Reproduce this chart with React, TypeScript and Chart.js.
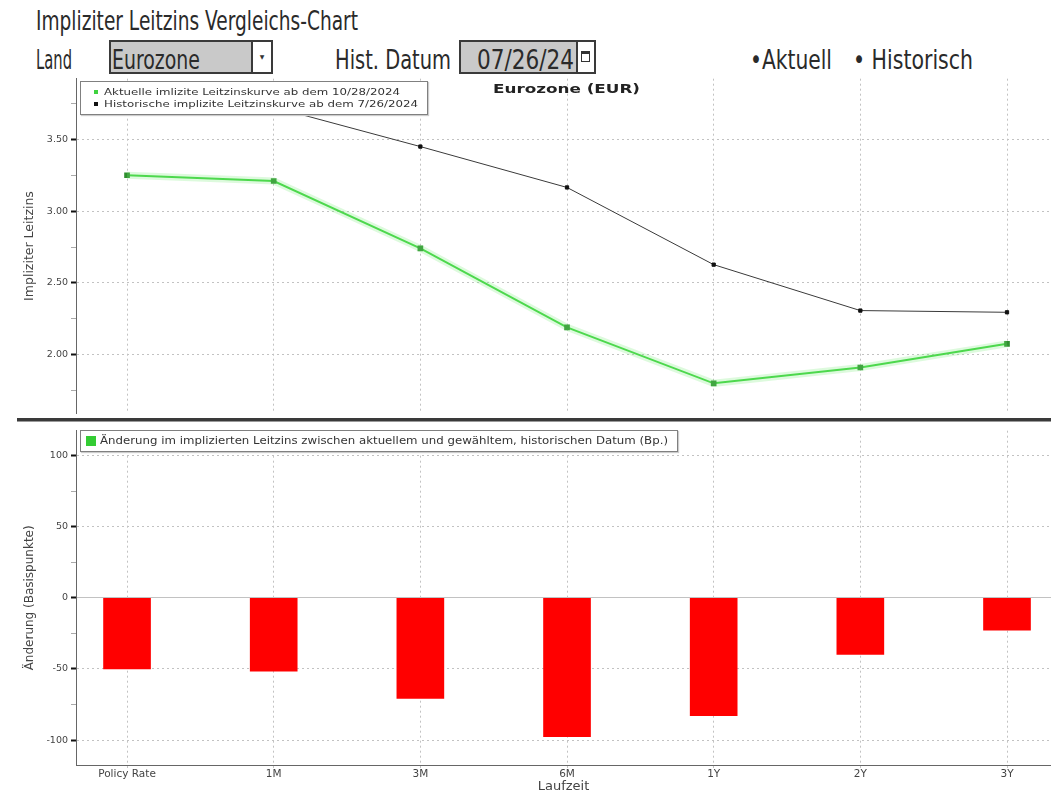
import React, { useEffect, useRef } from 'react';
import { Chart, registerables } from 'chart.js';

Chart.register(...registerables);

// ---------- data ----------
const categories = ['Policy Rate', '1M', '3M', '6M', '1Y', '2Y', '3Y'];
const currentCurve = [3.25, 3.21, 2.74, 2.19, 1.80, 1.91, 2.075];
const historicalCurve = [3.75, 3.725, 3.45, 3.165, 2.627, 2.307, 2.295];
const changeBp = [-50, -51.5, -70.7, -97.5, -82.8, -39.8, -22.7];
const rateMajorTicks = [2.0, 2.5, 3.0, 3.5];
const rateMinorTicks = [1.75, 2.25, 2.75, 3.25, 3.75];
const changeMajorTicks = [-100, -50, 0, 50, 100];
const changeMinorTicks = [-75, -25, 25, 75];

const currentLabel = 'Aktuelle imlizite Leitzinskurve ab dem 10/28/2024';
const historicalLabel = 'Historische implizite Leitzinskurve ab dem 7/26/2024';
const changeLabel = 'Änderung im implizierten Leitzins zwischen aktuellem und gewähltem, historischen Datum (Bp.)';

const FAMILY = 'DejaVu Sans';
const FONT = "'DejaVu Sans', sans-serif";

let measureCtx: CanvasRenderingContext2D | null = null;
function measure(text: string, size: number, weight: number | string, family: string) {
  if (!measureCtx) measureCtx = document.createElement('canvas').getContext('2d');
  if (!measureCtx) return 0;
  measureCtx.font = `${weight} ${size}px '${family}'`;
  return measureCtx.measureText(text).width;
}

function FitText(props: {
  text: string; x: number; baseline: number; width: number; size: number;
  weight?: number | string; color?: string; family?: string;
}) {
  const { text, x, baseline, width, size, weight = 400, color = '#2a2a2a', family = FAMILY } = props;
  const w = measure(text, size, weight, family);
  const k = w > 0 ? width / w : 1;
  return (
    <div
      style={{
        position: 'absolute', left: x, top: baseline - 0.846 * size,
        fontFamily: `'${family}'`, fontSize: size, fontWeight: weight as any,
        lineHeight: 1, whiteSpace: 'nowrap', color,
        transform: `scaleX(${k})`, transformOrigin: 'left top',
      }}
    >
      {text}
    </div>
  );
}

const X_MIN = -0.348;
const X_MAX = 6.3;
const GRID = '#c2c2c2';
const DASH = [2, 3];

export default function App() {
  const topRef = useRef<HTMLCanvasElement>(null);
  const botRef = useRef<HTMLCanvasElement>(null);

  useEffect(() => {
    const isRateMajor = (v: any) => rateMajorTicks.includes(v);
    const isChangeMajor = (v: any) => changeMajorTicks.includes(v);

    const top = new Chart(topRef.current!, {
      type: 'line',
      data: {
        datasets: [
          {
            data: currentCurve.map((y, i) => ({ x: i, y })),
            borderColor: 'rgba(120,235,120,0.25)',
            borderWidth: 7,
            pointRadius: 0,
          },
          {
            data: historicalCurve.map((y, i) => ({ x: i, y })),
            borderColor: '#3a3a3a',
            borderWidth: 1,
            pointStyle: 'rect',
            pointRadius: 2.3,
            pointBackgroundColor: '#111',
            pointBorderColor: '#111',
          },
          {
            data: currentCurve.map((y, i) => ({ x: i, y })),
            borderColor: '#3fd23f',
            borderWidth: 2,
            pointStyle: 'rect',
            pointRadius: 2.6,
            pointBackgroundColor: '#2f8f2f',
            pointBorderColor: '#2f8f2f',
          },
        ],
      },
      options: {
        responsive: false,
        animation: false,
        events: [],
        layout: { autoPadding: false, padding: { top: 8, bottom: 2, left: 0, right: 0 } },
        plugins: { legend: { display: false }, tooltip: { enabled: false }, title: { display: false } },
        scales: {
          x: {
            type: 'linear',
            min: X_MIN,
            max: X_MAX,
            afterBuildTicks: (s: any) => { s.ticks = categories.map((_, i) => ({ value: i })); },
            afterFit: (s: any) => { s.height = 0; },
            ticks: { display: false },
            grid: { color: GRID, drawTicks: false, offset: false },
            border: { display: false, dash: DASH },
          },
          y: {
            min: 1.591,
            max: 3.923,
            afterBuildTicks: (s: any) => {
              s.ticks = [...rateMinorTicks, ...rateMajorTicks].sort((a, b) => a - b).map((v) => ({ value: v }));
            },
            afterFit: (s: any) => { s.width = 76; },
            ticks: {
              autoSkip: false,
              padding: 3,
              color: '#444',
              font: { family: FAMILY, size: 9.5 },
              callback: (v: any) => (isRateMajor(v) ? Number(v).toFixed(2) : ''),
            },
            grid: {
              color: (c: any) => (c.tick && isRateMajor(c.tick.value) ? GRID : 'rgba(0,0,0,0)'),
              tickColor: (c: any) => (c.tick && isRateMajor(c.tick.value) ? '#111' : '#aaa'),
              tickWidth: (c: any) => (c.tick && isRateMajor(c.tick.value) ? 2 : 1),
              tickLength: 5,
            },
            border: { color: '#666', width: 1, dash: DASH },
            title: {
              display: true,
              text: 'Impliziter Leitzins',
              color: '#444',
              font: { family: FAMILY, size: 12.5 },
              padding: { top: 22, bottom: 0 },
            },
          },
        },
      } as any,
    });

    const bot = new Chart(botRef.current!, {
      type: 'bar',
      data: {
        datasets: [
          {
            data: changeBp.map((y, i) => ({ x: i, y })),
            backgroundColor: '#ff0000',
            borderWidth: 0,
            barThickness: 47,
          },
        ],
      },
      options: {
        responsive: false,
        animation: false,
        events: [],
        layout: { autoPadding: false, padding: { top: 1, bottom: 0, left: 0, right: 0 } },
        plugins: { legend: { display: false }, tooltip: { enabled: false }, title: { display: false } },
        scales: {
          x: {
            type: 'linear',
            min: X_MIN,
            max: X_MAX,
            offset: false,
            afterBuildTicks: (s: any) => { s.ticks = categories.map((_, i) => ({ value: i })); },
            afterFit: (s: any) => { s.height = 29; },
            ticks: {
              autoSkip: false,
              maxRotation: 0,
              padding: 0,
              color: '#444',
              font: { family: FAMILY, size: 10.5 },
              callback: (v: any) => categories[v] ?? '',
            },
            grid: { color: GRID, tickColor: GRID, tickLength: 3, offset: false },
            border: { color: '#666', width: 1, dash: DASH },
            title: {
              display: true,
              text: 'Laufzeit',
              color: '#444',
              font: { family: FAMILY, size: 13 },
              padding: { top: 0, bottom: 0 },
            },
          },
          y: {
            min: -117.5,
            max: 117.5,
            afterBuildTicks: (s: any) => {
              s.ticks = [...changeMinorTicks, ...changeMajorTicks].sort((a, b) => a - b).map((v) => ({ value: v }));
            },
            afterFit: (s: any) => { s.width = 76; },
            ticks: {
              autoSkip: false,
              padding: 3,
              color: '#444',
              font: { family: FAMILY, size: 9.5 },
              callback: (v: any) => (isChangeMajor(v) ? String(v) : ''),
            },
            grid: {
              color: (c: any) => (c.tick && isChangeMajor(c.tick.value) ? GRID : 'rgba(0,0,0,0)'),
              tickColor: (c: any) => (c.tick && isChangeMajor(c.tick.value) ? '#111' : '#aaa'),
              tickWidth: (c: any) => (c.tick && isChangeMajor(c.tick.value) ? 2 : 1),
              tickLength: 5,
            },
            border: {
              color: '#666',
              width: 1,
              dash: (c: any) => (c.tick && c.tick.value === 0 ? [] : DASH),
            },
            title: {
              display: true,
              text: 'Änderung (Basispunkte)',
              color: '#444',
              font: { family: FAMILY, size: 12 },
              padding: { top: 23, bottom: 0 },
            },
          },
        },
      } as any,
    });

    return () => {
      top.destroy();
      bot.destroy();
    };
  }, []);

  const boxBorder = '2px solid #3a3a3a';

  return (
    <div style={{ position: 'absolute', left: 0, top: 0, width: 1051, height: 794, background: '#fff', overflow: 'hidden', fontFamily: FONT }}>
      {/* Header */}
      <FitText text="Impliziter Leitzins Vergleichs-Chart" x={36} baseline={30} width={322} size={27} />
      <FitText text="Land" x={36} baseline={69} width={36} size={26} />
      <div style={{ position: 'absolute', left: 109, top: 40, width: 164, height: 34, background: '#c9c9c9', border: boxBorder, boxSizing: 'border-box' }}>
        <div style={{ position: 'absolute', right: 0, top: 0, width: 20, height: '100%', background: '#fff', borderLeft: boxBorder, boxSizing: 'border-box', textAlign: 'center', fontSize: 6, lineHeight: '30px', color: '#333' }}>▼</div>
      </div>
      <FitText text="Eurozone" x={112} baseline={69} width={88} size={26} />
      <FitText text="Hist. Datum" x={335} baseline={69} width={116} size={26} />
      <div style={{ position: 'absolute', left: 459, top: 40, width: 137, height: 34, background: '#c9c9c9', border: boxBorder, boxSizing: 'border-box' }}>
        <div style={{ position: 'absolute', right: 0, top: 0, width: 18, height: '100%', background: '#fff', borderLeft: boxBorder, boxSizing: 'border-box' }}>
          <div style={{ position: 'absolute', left: 3, top: 9, width: 9, height: 11, border: '1.5px solid #333', borderTopWidth: 3, boxSizing: 'border-box' }} />
        </div>
      </div>
      <FitText text="07/26/24" x={477} baseline={69} width={97} size={26} />
      <FitText text="•Aktuell" x={750} baseline={69} width={82} size={26} />
      <FitText text="• Historisch" x={853} baseline={69} width={120} size={26} />

      {/* Charts */}
      <canvas ref={topRef} width={1051} height={352} style={{ position: 'absolute', left: 0, top: 70, width: 1051, height: 352 }} />
      <canvas ref={botRef} width={1051} height={372} style={{ position: 'absolute', left: 0, top: 422, width: 1051, height: 372 }} />

      {/* chart title */}
      <FitText text="Eurozone (EUR)" x={493} baseline={93} width={147} size={12} weight={700} color="#222" />

      {/* separator */}
      <div style={{ position: 'absolute', left: 17, top: 418, width: 1034, height: 3, background: '#3a3a3a' }} />
      <div style={{ position: 'absolute', left: 17, top: 421, width: 1034, height: 1, background: '#9a9a9a' }} />

      {/* top legend */}
      <div style={{ position: 'absolute', left: 80, top: 81, width: 348, height: 34, background: '#fff', border: '1px solid #808080', boxSizing: 'border-box', boxShadow: '1px 1px 1px #ccc' }} />
      <div style={{ position: 'absolute', left: 94, top: 90, width: 4, height: 4, background: '#3fd23f' }} />
      <FitText text={currentLabel} x={104} baseline={95.5} width={296} size={9.5} color="#333" />
      <div style={{ position: 'absolute', left: 94, top: 102, width: 4, height: 4, background: '#111' }} />
      <FitText text={historicalLabel} x={104} baseline={107.5} width={314} size={9.5} color="#333" />

      {/* bottom legend */}
      <div style={{ position: 'absolute', left: 80, top: 430, width: 598, height: 22, background: '#fff', border: '1px solid #808080', boxSizing: 'border-box', boxShadow: '1px 1px 1px #ccc' }} />
      <div style={{ position: 'absolute', left: 86, top: 436, width: 10, height: 10, background: '#33cc33' }} />
      <FitText text={changeLabel} x={100} baseline={444.5} width={568} size={10} color="#333" />
    </div>
  );
}
